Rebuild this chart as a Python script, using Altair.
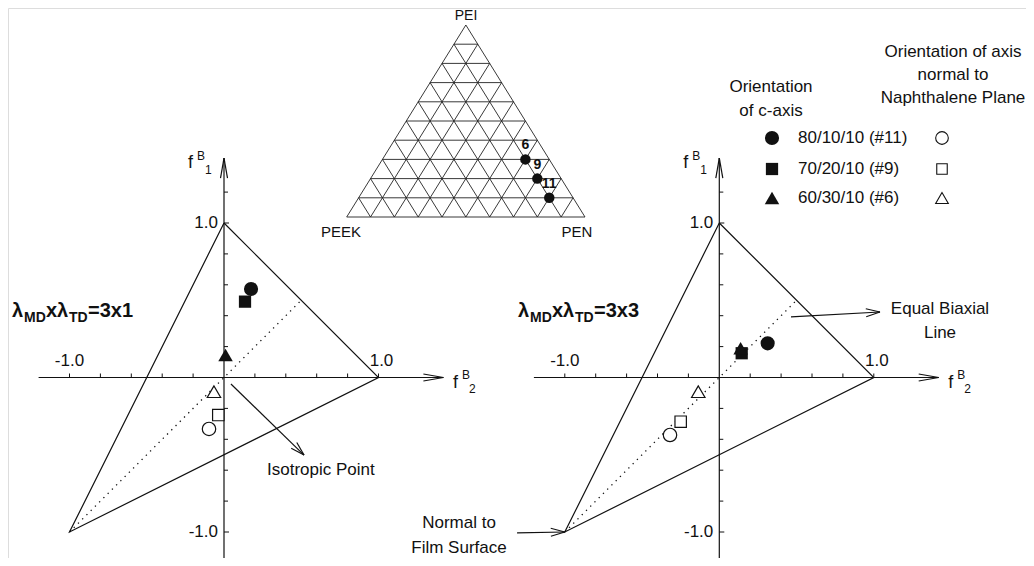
import math
import altair as alt
import pandas as pd

FONT = "Liberation Sans"

# ---------------- data ----------------
samples = ["80/10/10 (#11)", "70/20/10 (#9)", "60/30/10 (#6)"]
sample_ids = ["11", "9", "6"]
sample_shapes = ["circle", "square", "triangle-up"]

# orientation of c-axis (filled symbols), f2 / f1 per sample
caxis_f2_3x1 = [0.175, 0.136, 0.010]
caxis_f1_3x1 = [0.573, 0.491, 0.146]
caxis_f2_3x3 = [0.313, 0.145, 0.138]
caxis_f1_3x3 = [0.221, 0.157, 0.189]
# orientation of axis normal to naphthalene plane (open symbols)
naph_f2_3x1 = [-0.097, -0.037, -0.065]
naph_f1_3x1 = [-0.333, -0.243, -0.092]
naph_f2_3x3 = [-0.319, -0.250, -0.136]
naph_f1_3x3 = [-0.372, -0.286, -0.092]

# blend compositions shown in the ternary diagram (fractions in %)
comp_pen = [80, 70, 60]
comp_pei = [10, 20, 30]
comp_peek = [10, 10, 10]

# White-Spruiell triangle (f2, f1) and equal biaxial line
tri_f2 = [0.0, 1.0, -1.0, 0.0]
tri_f1 = [1.0, 0.0, -1.0, 1.0]
eb_f2 = [-1.0, 0.5]
eb_f1 = [-1.0, 0.5]

x_ticks = [-1.0, -0.8, -0.6, -0.4, -0.2, 0.2, 0.4, 0.6, 0.8, 1.0]
y_ticks = [-1.0, -0.8, -0.6, -0.4, -0.2, 0.2, 0.4, 0.6, 0.8, 1.0, 1.2]
axis_lo, axis_hi = -1.2, 1.42
panels = ["3x1", "3x3"]

# ---------------- layout ----------------
U = 154.5                      # pixels per f unit
OX1, OX2, OY = 224.0, 719.3, 377.5
T_LEFT, T_SIDE, T_BASE, T_H = 346.7, 238.3, 217.0, 192.0

XS = alt.Scale(domain=[8, 1026], nice=False, zero=False)
YS = alt.Scale(domain=[8, 558], nice=False, zero=False, reverse=True)
OXE = f"(datum.panel == '3x1' ? {OX1} : {OX2})"


def fx(f2, dx="0"):
    return f"{OXE} + datum.{f2} * {U} + datum.{dx}" if dx != "0" else f"{OXE} + datum.{f2} * {U}"


def fy(f1, dy="0"):
    return f"{OY} - datum.{f1} * {U} + datum.{dy}" if dy != "0" else f"{OY} - datum.{f1} * {U}"


def xy(field_x, field_y):
    return dict(x=alt.X(f"{field_x}:Q", scale=XS, axis=None),
                y=alt.Y(f"{field_y}:Q", scale=YS, axis=None))


# ---------------- segments in panel (f) space ----------------
axis_segs, tick_segs, head_segs = [], [], []


def seg(store, panel, a, b, da=(0, 0), db=(0, 0)):
    store.append(dict(panel=panel, f2a=a[0], f1a=a[1], dxa=da[0], dya=da[1],
                      f2b=b[0], f1b=b[1], dxb=db[0], dyb=db[1]))


def head(panel, tail, tip, L, W):
    vx = (tip[0] - tail[0]) * U
    vy = -(tip[1] - tail[1]) * U
    n = math.hypot(vx, vy)
    ux, uy = vx / n, vy / n
    px, py = -uy, ux
    for s in (1, -1):
        seg(head_segs, panel, tip, tip, (0, 0), (-L * ux + s * W * px, -L * uy + s * W * py))


annot_arrows = [  # panel, tail (f2,f1), tip (f2,f1)
    ("3x1", (0.045, -0.042), (0.518, -0.502)),
    ("3x3", (0.464, 0.392), (1.040, 0.424)),
    ("3x3", (-1.309, -1.006), (-1.000, -1.000)),
]

for p in panels:
    seg(axis_segs, p, (axis_lo, 0), (axis_hi, 0))
    seg(axis_segs, p, (0, axis_lo), (0, axis_hi))
    head(p, (0, 0), (axis_hi, 0), 20, 3.5)
    head(p, (0, 0), (0, axis_hi), 20, 3.5)
    for t in x_ticks:
        seg(tick_segs, p, (t, 0), (t, 0), (0, 0), (0, -4))
    for t in y_ticks:
        seg(tick_segs, p, (0, t), (0, t), (0, 0), (5 if abs(t) == 1.0 else 4, 0))
for p, a, b in annot_arrows:
    seg(axis_segs, p, a, b)
    head(p, a, b, 14, 4)


def seg_layer(rows, width):
    return alt.Chart(pd.DataFrame(rows)).transform_calculate(
        Xa=fx("f2a", "dxa"), Ya=fy("f1a", "dya"), Xb=fx("f2b", "dxb"), Yb=fy("f1b", "dyb")
    ).mark_rule(color="#111111", strokeWidth=width).encode(
        x2="Xb:Q", y2="Yb:Q", **xy("Xa", "Ya"))


layers = [seg_layer(axis_segs, 1.2), seg_layer(tick_segs, 1.0), seg_layer(head_segs, 1.2)]

# triangle outline and equal-biaxial dotted line
tri_rows, eb_rows = [], []
for p in panels:
    for i, (a, b) in enumerate(zip(tri_f2, tri_f1)):
        tri_rows.append(dict(panel=p, k=i, f2=a, f1=b))
    for i, (a, b) in enumerate(zip(eb_f2, eb_f1)):
        eb_rows.append(dict(panel=p, k=i, f2=a, f1=b))

layers.append(alt.Chart(pd.DataFrame(tri_rows)).transform_calculate(X=fx("f2"), Y=fy("f1"))
              .mark_line(color="#111111", strokeWidth=1.2)
              .encode(detail="panel:N", order="k:Q", **xy("X", "Y")))
layers.append(alt.Chart(pd.DataFrame(eb_rows)).transform_calculate(X=fx("f2"), Y=fy("f1"))
              .mark_line(color="#111111", strokeWidth=1.3, strokeDash=[1.3, 4.7])
              .encode(detail="panel:N", order="k:Q", **xy("X", "Y")))

# data points
pt_rows = []
for i, s in enumerate(samples):
    pt_rows.append(dict(panel="3x1", sample=s, kind="c", f2=caxis_f2_3x1[i], f1=caxis_f1_3x1[i]))
    pt_rows.append(dict(panel="3x3", sample=s, kind="c", f2=caxis_f2_3x3[i], f1=caxis_f1_3x3[i]))
    pt_rows.append(dict(panel="3x1", sample=s, kind="n", f2=naph_f2_3x1[i], f1=naph_f1_3x1[i]))
    pt_rows.append(dict(panel="3x3", sample=s, kind="n", f2=naph_f2_3x3[i], f1=naph_f1_3x3[i]))
pts = pd.DataFrame(pt_rows)

filled_sizes = [200, 150, 210]
open_sizes = [180, 130, 180]
for i, s in enumerate(samples):
    base = alt.Chart(pts).transform_filter(f"datum.sample == '{s}'").transform_calculate(
        X=fx("f2"), Y=fy("f1"))
    layers.append(base.transform_filter("datum.kind == 'n'").mark_point(
        shape=sample_shapes[i], size=open_sizes[i], filled=True, fill="white",
        stroke="#111111", strokeWidth=1.2, opacity=1).encode(**xy("X", "Y")))
    layers.append(base.transform_filter("datum.kind == 'c'").mark_point(
        shape=sample_shapes[i], size=filled_sizes[i], filled=True, color="#111111",
        opacity=1).encode(**xy("X", "Y")))

# ---------------- text in panel space ----------------
ptxt = []
for p in panels:
    ptxt.append(dict(panel=p, f2=-1.0, f1=0, dx=0, dy=-17, t="-1.0", al="center"))
    ptxt.append(dict(panel=p, f2=1.0, f1=0, dx=3, dy=-17, t="1.0", al="center"))
    ptxt.append(dict(panel=p, f2=0, f1=1.0, dx=-6, dy=0, t="1.0", al="right"))
    ptxt.append(dict(panel=p, f2=0, f1=-1.0, dx=-6, dy=0, t="-1.0", al="right"))
ptxt = pd.DataFrame(ptxt)
for al in ["center", "right"]:
    layers.append(alt.Chart(ptxt).transform_filter(f"datum.al == '{al}'").transform_calculate(
        X=fx("f2", "dx"), Y=fy("f1", "dy")).mark_text(
        font=FONT, fontSize=17, align=al, baseline="middle", color="#111111").encode(
        text="t:N", **xy("X", "Y")))

# ---------------- free text (page positions) ----------------
free = []


def txt(x, y, t, size=17, weight="normal", align="left"):
    free.append(dict(X=x, Y=y, t=t, size=size, weight=weight, align=align))


# axis names f^B_1, f^B_2
for ox in (OX1, OX2):
    txt(ox - 36, 163, "f", 18)
    txt(ox - 27, 156, "B", 12)
    txt(ox - 19, 170, "1", 12)
    txt(ox + 229, OY + 5, "f", 18)
    txt(ox + 238, OY - 3, "B", 12)
    txt(ox + 245, OY + 11, "2", 12)

# panel labels lambda_MD x lambda_TD
for x0, lab in ((12, "=3x1"), (518, "=3x3")):
    txt(x0, 311, "λ", 20, "bold")
    txt(x0 + 12, 318, "MD", 14, "bold")
    txt(x0 + 34, 311, "x", 20, "bold")
    txt(x0 + 45, 311, "λ", 20, "bold")
    txt(x0 + 57, 318, "TD", 14, "bold")
    txt(x0 + 76, 311, lab, 20, "bold")

txt(267, 470, "Isotropic Point", 17)
txt(940, 309, "Equal Biaxial", 17, align="center")
txt(940, 333, "Line", 17, align="center")
txt(459, 523, "Normal to", 17, align="center")
txt(459, 548, "Film Surface", 17, align="center")

# ternary vertex names
txt(466, 16, "PEI", 14, align="center")
txt(341, 232, "PEEK", 15, align="center")
txt(577, 232, "PEN", 15, align="center")

# legend headers and rows
txt(771, 87, "Orientation", 17, align="center")
txt(771, 111, "of c-axis", 17, align="center")
txt(953, 52, "Orientation of axis", 17, align="center")
txt(953, 75, "normal to", 17, align="center")
txt(953, 98, "Naphthalene Plane", 17, align="center")
legend_y = [138, 169, 198]
for i, s in enumerate(samples):
    txt(798, legend_y[i], s, 17)

free = pd.DataFrame(free)
for (size, weight, align), _ in free.groupby(["size", "weight", "align"]):
    layers.append(alt.Chart(free).transform_filter(
        f"datum.size == {size} && datum.weight == '{weight}' && datum.align == '{align}'"
    ).mark_text(font=FONT, fontSize=int(size), fontWeight=weight, align=align,
                baseline="middle", color="#111111").encode(text="t:N", **xy("X", "Y")))

# legend symbols
leg = pd.DataFrame(dict(sample=samples, Y=legend_y))
for i, s in enumerate(samples):
    b = alt.Chart(leg).transform_filter(f"datum.sample == '{s}'")
    layers.append(b.transform_calculate(X="772").mark_point(
        shape=sample_shapes[i], size=filled_sizes[i], filled=True, color="#111111", opacity=1
    ).encode(**xy("X", "Y")))
    layers.append(b.transform_calculate(X="942").mark_point(
        shape=sample_shapes[i], size=open_sizes[i] - 20, filled=True, fill="white",
        stroke="#111111", strokeWidth=1.1, opacity=1).encode(**xy("X", "Y")))

# ---------------- ternary diagram ----------------
tern = []
for k in range(0, 10):
    f = k / 10
    tern.append(dict(pa=0, ia=f, pb=1 - f, ib=f))          # constant PEI
    tern.append(dict(pa=f, ia=0, pb=f, ib=1 - f))          # constant PEN
    tern.append(dict(pa=1 - f, ia=0, pb=0, ib=1 - f))      # constant PEEK
TX = lambda p, i: f"{T_LEFT} + {T_SIDE} * (datum.{p} + datum.{i} / 2)"
TY = lambda i: f"{T_BASE} - {T_H} * datum.{i}"
layers.append(alt.Chart(pd.DataFrame(tern)).transform_calculate(
    Xa=TX("pa", "ia"), Ya=TY("ia"), Xb=TX("pb", "ib"), Yb=TY("ib")
).mark_rule(color="#222222", strokeWidth=0.9).encode(x2="Xb:Q", y2="Yb:Q", **xy("Xa", "Ya")))

tp = pd.DataFrame(dict(pen=comp_pen, pei=comp_pei, peek=comp_peek, id=sample_ids))
tbase = alt.Chart(tp).transform_calculate(
    X=f"{T_LEFT} + {T_SIDE} * (datum.pen + datum.pei / 2) / 100",
    Y=f"{T_BASE} - {T_H} * datum.pei / 100")
layers.append(tbase.mark_point(shape="circle", size=110, filled=True, color="#111111",
                               opacity=1).encode(**xy("X", "Y")))
layers.append(tbase.mark_text(font=FONT, fontSize=14, fontWeight="bold", dy=-14,
                              baseline="middle", color="#111111").encode(text="id:N", **xy("X", "Y")))

chart = alt.layer(*layers).properties(
    width=1018, height=550, autosize=alt.AutoSizeParams(type="none"), padding=0
).configure_view(stroke=None).configure(background="white")

chart.save("out.html", embed_options={"renderer": "svg", "actions": False})
